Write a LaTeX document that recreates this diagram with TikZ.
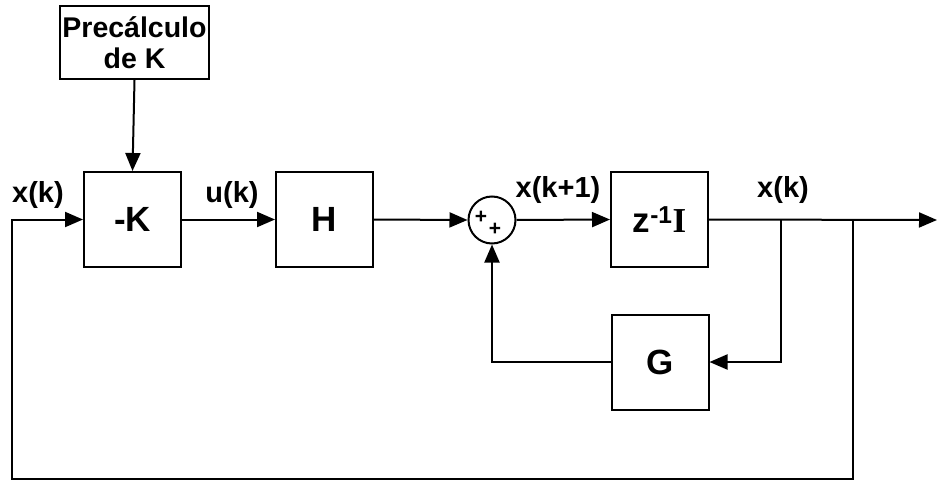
\documentclass[tikz,border=0pt]{standalone}
\usepackage{fontspec}
\setmainfont{Liberation Sans}
\newfontfamily\timesfont{Liberation Serif}
\usepackage{tikz}
\usetikzlibrary{arrows.meta,positioning,calc}
\tikzset{
  blk/.style={draw,line width=2pt,minimum width=97pt,minimum height=95pt,
              font=\fontsize{35}{38}\selectfont\bfseries,align=center,inner sep=0pt},
  prebox/.style={draw,line width=2pt,minimum width=149pt,minimum height=73pt,
                 font=\fontsize{28.5}{31}\selectfont\bfseries,align=center,inner sep=0pt},
  sumnode/.style={draw,circle,line width=2pt,minimum size=47pt,inner sep=0pt},
  pls/.style={font=\fontsize{21}{21}\selectfont\bfseries,inner sep=0pt},
  lbl/.style={font=\fontsize{29}{30}\selectfont\bfseries,inner sep=0pt},
  arr/.style={-{Triangle[length=18pt,width=15pt]},line width=2pt},
}
\begin{document}
\begin{tikzpicture}[x=1pt,y=-1pt]
  \useasboundingbox (0,0) rectangle (938,482);
  %% Blocks
  \node[prebox] (pre) at (134.5,42.5) {Precálculo\\de K};
  \node[blk] (mk) at (132.5,219.5) {-K};
  \node[blk] (H)  at (324.5,219.5) {H};
  \node[sumnode] (sum) at (492,220) {};
  \node[pls] at ($(sum.center)+(-11,-3)$) {+};
  \node[pls] at ($(sum.center)+(3,9)$) {+};
  \node[blk] (z)  at (659.5,219.5) {z\textsuperscript{-1}{\timesfont\bfseries I}};
  \node[blk] (G)  at (660,362) {G};
  %% Branch points
  \coordinate (j)   at (781,220);
  \coordinate (t)   at (853,220);
  \coordinate (out) at (937,220);
  \coordinate (bl)  at (12,479);
  %% Signal labels
  \node[lbl] (xk)  at (38,195)  {x(k)};
  \node[lbl] (uk)  at (232,195) {u(k)};
  \node[lbl] (xk1) at (558,190) {x(k+1)};
  \node[lbl] (xk2) at (783,190) {x(k)};
  %% Connectors
  \draw[arr] (pre.south) -- (mk.north);
  \draw[arr] (mk.east) -- (H.west);
  \draw[arr] (H.east) -- (sum.west);
  \draw[arr] (sum.east) -- (z.west);
  \draw[arr] (z.east) -- (out);
  \draw[arr] (j) |- (G.east);
  \draw[arr] (G.west) -| (sum.south);
  \draw[arr] (t) |- (bl) |- (mk.west);
\end{tikzpicture}
\end{document}
